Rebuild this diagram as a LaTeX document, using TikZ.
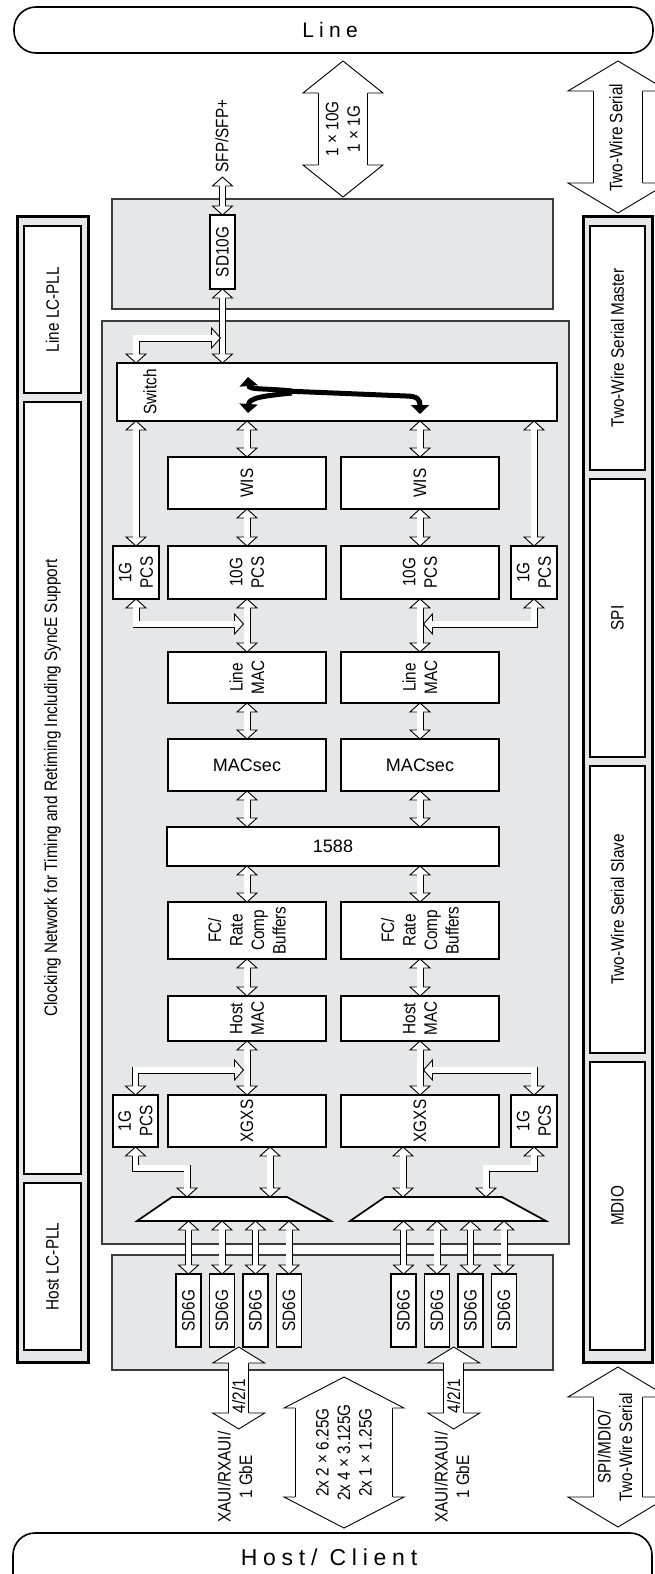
\documentclass[tikz,border=0pt]{standalone}
\usepackage{fontspec}
\setmainfont{Liberation Sans}
\newfontfamily\cnd{Liberation Sans}[FakeStretch=0.85]
\newfontfamily\lsp{Liberation Sans}[LetterSpace=25]
\usetikzlibrary{arrows.meta,calc}
\definecolor{panel}{HTML}{E6E7E8}
\definecolor{edge}{HTML}{3C3C3C}
\def\ArL{0.9}
\newcommand\setarr[3]{\def\ArS{#1}\def\ArW{#2}\def\ArH{#3}%
  \pgfmathsetmacro\ArD{2*#1-2*\ArL}\pgfmathsetmacro\ArI{#1-\ArL/2}}
\setarr{3.5}{10}{9}
\newcommand\tip[2]{\begin{scope}[shift={#1},rotate=#2]
  \fill[white] (-\ArH,\ArW) -- (0,0) -- (-\ArH,-\ArW) -- cycle;
  \draw[line width=\ArL pt,line join=miter] (-\ArH,\ArI) -- (-\ArH,\ArW) -- (0,0) -- (-\ArH,-\ArW) -- (-\ArH,-\ArI);
  \end{scope}}
\newcommand\vd[2]{\draw[shaft] #1 -- #2; \tip{#1}{90}\tip{#2}{-90}}
\newcommand\bx[6]{\node[#1,minimum width=#5-#3,minimum height=#6-#4] (#2) at (#3,#4) {};}
\tikzset{
  shaft/.style={draw, line width=\ArL pt, double=white, double distance=\ArD pt, shorten <=\ArH pt, shorten >=\ArH pt},
  blk/.style={draw=black, line width=1.7pt, fill=white, inner sep=0pt, outer sep=0pt, anchor=north west},
  panelbox/.style={draw=edge, line width=1.4pt, fill=panel, inner sep=0pt, outer sep=0pt, anchor=north west},
  framebox/.style={draw=black, line width=3pt, fill=panel, inner sep=0pt, outer sep=0pt, anchor=north west},
  sidebox/.style={draw=black, line width=2pt, fill=white, inner sep=0pt, outer sep=0pt, anchor=north west},
  endbox/.style={draw=black, line width=1.6pt, fill=white, rounded corners=22pt, inner sep=0pt, outer sep=0pt, anchor=north west},
  rot/.style={rotate=90, font=\cnd\fontsize{18}{21.5}\selectfont, align=center, inner sep=0pt},
  hl/.style={font=\fontsize{18}{21}\selectfont, inner sep=0pt},
  swarr/.style={line width=5pt, -{Triangle[width=18pt,length=9pt]}},
}
\begin{document}
\begin{tikzpicture}[x=1pt,y=-1pt]
\path[use as bounding box] (0,0) rectangle (655,1574);
\clip (0,0) rectangle (655,1574);

% end boxes
\bx{endbox}{line}{14}{7}{653}{53}
\node[font=\lsp\fontsize{21}{21}\selectfont] at (line.center -| 330,0) {Line};
\bx{endbox}{host}{13}{1533}{652}{1600}
\node[font=\lsp\fontsize{23}{23}\selectfont] at (329,1557) {Host/ Client};

% left column
\bx{framebox}{lfr}{17}{216}{88}{1362}
\bx{sidebox}{llc}{24}{226}{81}{393}
\node[rot] at (llc) {Line LC-PLL};
\bx{sidebox}{clk}{24}{402}{81}{1174}
\node[rot] at (clk) {Clocking Network for Timing and Retiming Including SyncE Support};
\bx{sidebox}{hlc}{24}{1183}{81}{1350}
\node[rot] at (hlc) {Host LC-PLL};

% right column
\bx{framebox}{rfr}{583}{216}{652}{1362}
\bx{sidebox}{twm}{590}{226}{645}{470}
\node[rot] at (twm) {Two-Wire Serial Master};
\bx{sidebox}{spi}{590}{479}{645}{757}
\node[rot] at (spi) {SPI};
\bx{sidebox}{tws}{590}{766}{645}{1053}
\node[rot] at (tws) {Two-Wire Serial Slave};
\bx{sidebox}{mdio}{590}{1062}{645}{1350}
\node[rot] at (mdio) {MDIO};

% panels
\bx{panelbox}{lpan}{112}{199}{553}{309}
\bx{panelbox}{core}{102}{321}{569}{1244}
\bx{panelbox}{hpan}{112}{1255}{553}{1370}

% SD10G
\bx{blk}{sdt}{210}{215}{235}{289}
\node[rot] at (sdt) {SD10G};
\node[rot] at (222,136) {SFP/SFP+};

% switch
\bx{blk}{sw}{117}{363}{557}{421}
\node[rot] at (150,392) {Switch};

% blocks
\bx{blk}{wisL}{168}{457}{326}{509} \node[rot] at (wisL) {WIS};
\bx{blk}{wisR}{341}{457}{499}{509} \node[rot] at (wisR) {WIS};
\bx{blk}{pcsL}{168}{546}{326}{599} \node[rot] at (pcsL) {10G\\PCS};
\bx{blk}{pcsR}{341}{546}{499}{599} \node[rot] at (pcsR) {10G\\PCS};
\bx{blk}{gL}{113}{546}{159}{599} \node[rot] at (gL) {1G\\PCS};
\bx{blk}{gR}{511}{546}{557}{599} \node[rot] at (gR) {1G\\PCS};
\bx{blk}{lmL}{168}{652}{326}{703} \node[rot] at (lmL) {Line\\MAC};
\bx{blk}{lmR}{341}{652}{499}{703} \node[rot] at (lmR) {Line\\MAC};
\bx{blk}{msL}{168}{739}{326}{791} \node[hl] at (msL) {MACsec};
\bx{blk}{msR}{341}{739}{499}{791} \node[hl] at (msR) {MACsec};
\bx{blk}{ptp}{167}{827}{499}{866} \node[hl] at (ptp) {1588};
\bx{blk}{fcL}{168}{902}{326}{959} \node[rot] at (fcL) {FC/\\Rate\\Comp\\Buffers};
\bx{blk}{fcR}{341}{902}{499}{959} \node[rot] at (fcR) {FC/\\Rate\\Comp\\Buffers};
\bx{blk}{hmL}{168}{996}{326}{1041} \node[rot] at (hmL) {Host\\MAC};
\bx{blk}{hmR}{341}{996}{499}{1041} \node[rot] at (hmR) {Host\\MAC};
\bx{blk}{xgL}{168}{1095}{326}{1147} \node[rot] at (xgL) {XGXS};
\bx{blk}{xgR}{341}{1095}{499}{1147} \node[rot] at (xgR) {XGXS};
\bx{blk}{hgL}{113}{1095}{158}{1147} \node[rot] at (hgL) {1G\\PCS};
\bx{blk}{hgR}{511}{1095}{557}{1147} \node[rot] at (hgR) {1G\\PCS};

% muxes
\draw[line width=1.7pt, fill=white] (172,1197) -- (287,1197) -- (331,1221) -- (137,1221) -- cycle;
\draw[line width=1.7pt, fill=white] (385,1197) -- (502,1197) -- (546,1221) -- (350,1221) -- cycle;
\coordinate (mL1) at (187,1197);
\coordinate (mL2) at (270,1197);
\coordinate (mR1) at (403,1197);
\coordinate (mR2) at (486,1197);
\coordinate (mxb) at (0,1221);
\coordinate (kk) at (0,1168);

% SD6G
\foreach \i/\x in {1/176,2/209.5,3/243,4/276.5}{
  \bx{blk}{sdA\i}{\x}{1274}{\x+25}{1347} \node[rot] at (sdA\i) {SD6G};}
\foreach \i/\x in {1/391,2/424.5,3/458,4/491.5}{
  \bx{blk}{sdB\i}{\x}{1274}{\x+25}{1347} \node[rot] at (sdB\i) {SD6G};}

% ---- hollow arrows (standard)
\coordinate (sfp) at (222.5,177);
\vd{(sfp)}{(sdt.north)}
\vd{(sdt.south)}{(sdt.south |- sw.north)}
\coordinate (e0) at (220.5,338);
\draw[shaft] (sw.north -| gL) |- (e0); \tip{(sw.north -| gL)}{-90}\tip{(e0)}{0}
\vd{(sw.south -| gL)}{(gL.north)}
\vd{(sw.south -| gR)}{(gR.north)}
\vd{(sw.south -| wisL)}{(wisL.north)}
\vd{(sw.south -| wisR)}{(wisR.north)}
\vd{(wisL.south)}{(pcsL.north)}
\vd{(wisR.south)}{(pcsR.north)}
\vd{(pcsL.south)}{(lmL.north)}
\vd{(pcsR.south)}{(lmR.north)}
\coordinate (e1) at (243.5,624);
\coordinate (e2) at (423.5,624);
\draw[shaft] (gL.south) |- (e1); \tip{(gL.south)}{90}\tip{(e1)}{0}
\draw[shaft] (gR.south) |- (e2); \tip{(gR.south)}{90}\tip{(e2)}{180}
\vd{(lmL.south)}{(msL.north)}
\vd{(lmR.south)}{(msR.north)}
\vd{(msL.south)}{(ptp.north -| msL)}
\vd{(msR.south)}{(ptp.north -| msR)}
\vd{(ptp.south -| fcL)}{(fcL.north)}
\vd{(ptp.south -| fcR)}{(fcR.north)}
\vd{(fcL.south)}{(hmL.north)}
\vd{(fcR.south)}{(hmR.north)}
\vd{(hmL.south)}{(xgL.north)}
\vd{(hmR.south)}{(xgR.north)}
\coordinate (e3) at (243.5,1070);
\coordinate (e4) at (423.5,1070);
\draw[shaft] (hgL.north) |- (e3); \tip{(hgL.north)}{-90}\tip{(e3)}{0}
\draw[shaft] (hgR.north) |- (e4); \tip{(hgR.north)}{-90}\tip{(e4)}{180}
\vd{(xgL.south -| mL2)}{(mL2)}
\vd{(xgR.south -| mR1)}{(mR1)}
\draw[shaft] (hgL.south) -- (hgL.south |- kk) -| (mL1); \tip{(hgL.south)}{90}\tip{(mL1)}{-90}
\draw[shaft] (hgR.south) -- (hgR.south |- kk) -| (mR2); \tip{(hgR.south)}{90}\tip{(mR2)}{-90}
\foreach \i in {1,2,3,4}{
  \vd{(sdA\i.north |- mxb)}{(sdA\i.north)}
  \vd{(sdB\i.north |- mxb)}{(sdB\i.north)}}

% switch internal paths
\draw[swarr] (292,391) .. controls (262,388) and (249,390) .. (248,377);
\draw[swarr] (292,393) .. controls (262,396) and (249,398) .. (248,413);
\draw[swarr] (285,391) -- (406,396) .. controls (418,396) and (420,400) .. (420,414);

% ---- big arrows
\begin{scope}
\setarr{25}{40}{32}
\coordinate (a1t) at (343,61);
\coordinate (a1b) at (343,197);
\vd{(a1t)}{(a1b)}
\node[rot] at ($(a1t)!0.5!(a1b)$) {1 × 10G\\1 × 1G};
\end{scope}
\begin{scope}
\setarr{25}{50}{30}
\coordinate (a2t) at (618,61);
\coordinate (a2b) at (618,213);
\vd{(a2t)}{(a2b)}
\node[rot] at (616,138) {Two-Wire Serial};
\coordinate (a3t) at (618,1367);
\coordinate (a3b) at (618,1527);
\vd{(a3t)}{(a3b)}
\node[rot] at (615,1447) {SPI/MDIO/\\Two-Wire Serial};
\end{scope}
\begin{scope}
\setarr{10.5}{26}{16}
\coordinate (qL) at ($(sdA2.south)!0.5!(sdA3.south)$);
\coordinate (qR) at ($(sdB2.south)!0.5!(sdB3.south)$);
\coordinate (qLb) at ($(qL)+(0,82)$);
\coordinate (qRb) at ($(qR)+(0,82)$);
\vd{(qL)}{(qLb)}
\vd{(qR)}{(qRb)}
\node[rot] at ($(qL)+(0,49)$) {4/2/1};
\node[rot] at ($(qR)+(0,49)$) {4/2/1};
\end{scope}
\node[rot] at (235,1477) {XAUI/RXAUI/\\1 GbE};
\node[rot] at (452,1477) {XAUI/RXAUI/\\1 GbE};
\begin{scope}
\setarr{49}{60}{31}
\coordinate (a4t) at (344,1377);
\coordinate (a4b) at (344,1528);
\vd{(a4t)}{(a4b)}
\node[rot] at ($(a4t)!0.5!(a4b)$) {2x 2 × 6.25G\\2x 4 × 3.125G\\2x 1 × 1.25G};
\end{scope}
\end{tikzpicture}
\end{document}
